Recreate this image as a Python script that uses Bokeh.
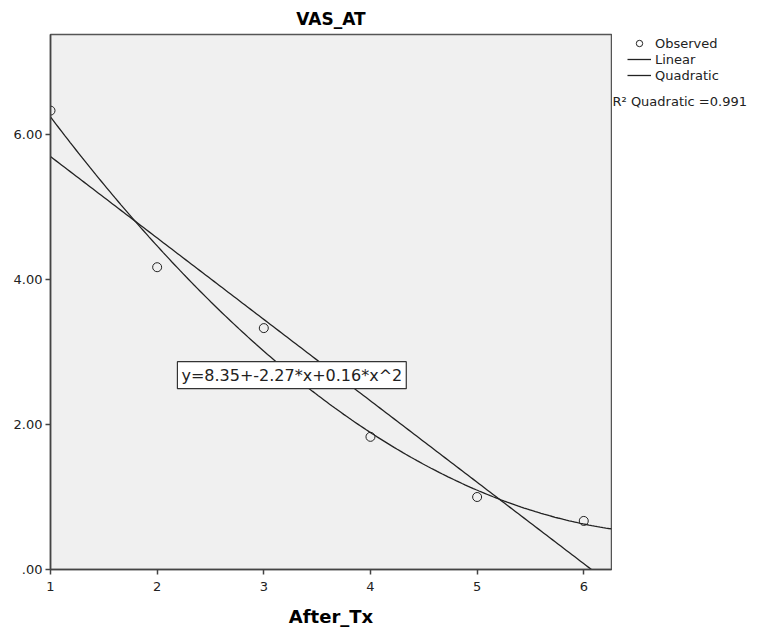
import numpy as np
from bokeh.plotting import figure
from bokeh.layouts import row
from bokeh.models import Range1d, Legend, LegendItem, Label, FixedTicker, CustomJSTickFormatter
from bokeh.embed import file_html
from bokeh.resources import INLINE

# Observed means of VAS_AT at each After_Tx step
after_tx = [1, 2, 3, 4, 5, 6]
vas_at = [6.33, 4.17, 3.33, 1.83, 1.00, 0.67]

# R-squared of the quadratic model
r2_quad = 0.991

x_ticks = [1, 2, 3, 4, 5, 6]
y_ticks = [0, 2, 4, 6]

FONT = "DejaVu Sans"
INK = "#222222"
TOP, BOTTOM = 34, 61          # shared top/bottom borders of both panels
FRAME_H = 630 - TOP - BOTTOM

p = figure(width=612, height=630, output_backend="svg", toolbar_location=None,
           x_range=Range1d(1, 6.26), y_range=Range1d(0, 7.38),
           min_border_left=50, min_border_right=1, min_border_top=TOP,
           min_border_bottom=BOTTOM, background_fill_color="#f0f0f0",
           border_fill_color="white", outline_line_color="#555555",
           outline_line_width=1.5)

p.title.text = "VAS_AT"
p.title.align = "center"
p.title.text_font = FONT
p.title.text_font_size = "17px"
p.title.text_font_style = "bold"
p.title.text_color = "black"
p.title.standoff = 12

p.xgrid.visible = False
p.ygrid.visible = False

for ax in (p.xaxis[0], p.yaxis[0]):
    ax.axis_line_color = "#444444"
    ax.axis_line_width = 1.5
    ax.major_tick_line_color = "#444444"
    ax.major_tick_line_width = 1.5
    ax.major_tick_in = 0
    ax.major_tick_out = 5
    ax.minor_tick_line_color = None
    ax.major_label_text_font = FONT
    ax.major_label_text_font_size = "13px"
    ax.major_label_text_color = INK

p.xaxis.ticker = FixedTicker(ticks=x_ticks)
p.yaxis.ticker = FixedTicker(ticks=y_ticks)
p.yaxis.formatter = CustomJSTickFormatter(
    code="var s = tick.toFixed(2); return s.startsWith('0') ? s.slice(1) : s;")
p.xaxis.major_label_standoff = 7
p.yaxis.major_label_standoff = 3

p.xaxis.axis_label = "After_Tx"
p.xaxis.axis_label_text_font = FONT
p.xaxis.axis_label_text_font_size = "18px"
p.xaxis.axis_label_text_font_style = "bold"
p.xaxis.axis_label_text_color = "black"
p.xaxis.axis_label_standoff = 12

# Least-squares fits: straight line and quadratic
xs = np.linspace(1, 6.26, 200)
lin = np.polyfit(after_tx, vas_at, 1)
quad = np.polyfit(after_tx, vas_at, 2)   # [b2, b1, b0]

p.line(xs, np.polyval(lin, xs), line_color=INK, line_width=1.3)
p.line(xs, np.polyval(quad, xs), line_color=INK, line_width=1.3)
p.scatter(after_tx, vas_at, marker="circle", size=9,
          fill_color=None, line_color=INK, line_width=1)

eq_text = "y=%.2f+%.2f*x+%.2f*x^2" % (quad[2], quad[1], quad[0])
eq = Label(x=2.19, y=2.68, text=eq_text,
           text_font=FONT, text_font_size="16px", text_baseline="middle",
           text_color=INK, background_fill_color="white",
           border_line_color="#333333", border_line_width=1.2, padding=4)
p.add_layout(eq)

# Key panel to the right of the plot; its frame spans the same rows as the
# plot frame, and its ranges are in pixels measured from that frame
k = figure(width=146, height=630, output_backend="svg", toolbar_location=None,
           x_range=Range1d(0, 146), y_range=Range1d(0, FRAME_H),
           x_axis_location=None, y_axis_location=None,
           min_border_left=0, min_border_right=0, min_border_top=TOP,
           min_border_bottom=BOTTOM, outline_line_color=None,
           background_fill_color="white", border_fill_color="white")
k.title.visible = False
k.grid.visible = False

# key glyph sources sit outside the visible ranges; only their legend swatches show
k_obs = k.scatter([-100], [-100], marker="circle", size=9, fill_color=None,
                  line_color=INK, line_width=1)
k_lin = k.line([-100, -90], [-100, -100], line_color=INK, line_width=1.3)
k_quad = k.line([-100, -90], [-100, -100], line_color=INK, line_width=1.3)

legend = Legend(items=[LegendItem(label="Observed", renderers=[k_obs]),
                       LegendItem(label="Linear", renderers=[k_lin]),
                       LegendItem(label="Quadratic", renderers=[k_quad])],
                location=(15, FRAME_H - 1 - 48), border_line_color=None,
                background_fill_alpha=0, label_text_font=FONT,
                label_text_font_size="13px", label_text_color=INK,
                glyph_width=24, glyph_height=16, label_height=16, spacing=0,
                padding=0, margin=0, label_standoff=4)
k.add_layout(legend)

r2 = Label(x=0, y=FRAME_H - (101 - TOP), text="R\u00b2 Quadratic =%.3f" % r2_quad,
           text_font=FONT, text_font_size="13px", text_color=INK,
           text_baseline="middle")
k.add_layout(r2)

open("out.html", "w").write(file_html(row(p, k), INLINE))
